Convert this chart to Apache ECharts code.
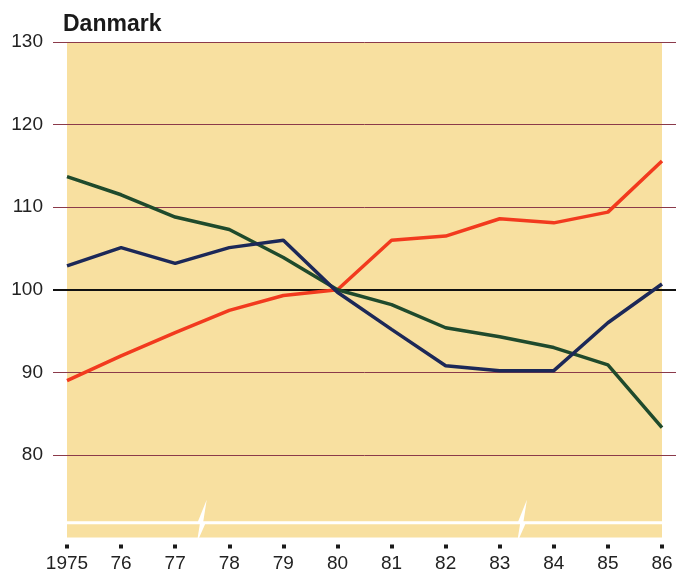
<!DOCTYPE html>
<html>
<head>
<meta charset="utf-8">
<script src="https://cdn.jsdelivr.net/npm/echarts@6/dist/echarts.min.js"></script>
<style>html,body{margin:0;padding:0;background:#fff;}#c{width:690px;height:579px;}</style>
</head>
<body>
<div id="c"></div>
<script>
const title = 'Danmark';
const years = [1975, 1976, 1977, 1978, 1979, 1980, 1981, 1982, 1983, 1984, 1985, 1986];
const redValues = [89.0, 92.0, 94.8, 97.5, 99.3, 100.0, 106.0, 106.5, 108.6, 108.1, 109.4, 115.6];
const navyValues = [102.9, 105.1, 103.2, 105.1, 106.0, 99.7, 95.2, 90.8, 90.2, 90.2, 96.0, 100.7];
const greenValues = [113.7, 111.5, 108.8, 107.3, 103.9, 100.0, 98.2, 95.4, 94.3, 93.0, 90.9, 83.3];
const yTicks = [80, 90, 100, 110, 120, 130];
const breakYears = [1977.48, 1983.4];
const breakLevel = 71.8;

const FONT = '"Liberation Sans", Arial, sans-serif';
const pair = vals => years.map((y, i) => [y, vals[i]]);

const chart = echarts.init(document.getElementById('c'), null, {renderer: 'canvas'});
const option = {
  backgroundColor: '#ffffff',
  animation: false,
  title: {
    text: title, left: 58, top: 8,
    textStyle: {fontFamily: FONT, fontSize: 23, fontWeight: 'bold', color: '#1a1a1a'}
  },
  grid: [
    {left: 53, right: 14, top: 42, bottom: 41.5, show: false},
    {left: 67, right: 28, top: 42, bottom: 41.5, show: true, backgroundColor: '#f8e0a0', borderWidth: 0, z: 0}
  ],
  xAxis: [
    {gridIndex: 0, type: 'value', min: 0, max: 1, show: false},
    {gridIndex: 1, type: 'value', min: 1975, max: 1986, interval: 1,
     offset: 7,
     axisLine: {show: false},
     axisTick: {show: true, length: 4, lineStyle: {width: 4, color: '#1a1a1a'}},
     splitLine: {show: false},
     axisLabel: {margin: 10, fontFamily: FONT, fontSize: 19, color: '#222',
       formatter: v => v === 1975 ? '1975' : String(v).slice(2)}}
  ],
  yAxis: [
    {gridIndex: 0, type: 'value', min: 70, max: 130, interval: 10, z: 1,
     axisLine: {show: false}, axisTick: {show: false},
     axisLabel: {margin: 10, fontFamily: FONT, fontSize: 19, color: '#222',
       formatter: v => yTicks.indexOf(v) >= 0 ? String(v) : ''},
     splitLine: {show: true, lineStyle: {width: 1,
       color: ['rgba(0,0,0,0)', '#8b3a4a', '#8b3a4a', '#111111', '#8b3a4a', '#8b3a4a', '#8b3a4a']}}},
    {gridIndex: 1, type: 'value', min: 70, max: 130, interval: 10, show: false, splitLine: {show: false}}
  ],
  series: [
    {type: 'line', xAxisIndex: 0, yAxisIndex: 0, data: [], z: 1, silent: true,
     markLine: {symbol: 'none', silent: true, label: {show: false}, z: 1,
       lineStyle: {color: '#111111', width: 2, type: 'solid'}, data: [{yAxis: 100}]}},
    {name: 'red', type: 'line', xAxisIndex: 1, yAxisIndex: 1, data: pair(redValues), showSymbol: false, z: 3,
     lineStyle: {color: '#f23a1e', width: 3.5}},
    {name: 'green', type: 'line', xAxisIndex: 1, yAxisIndex: 1, data: pair(greenValues), showSymbol: false, z: 3,
     lineStyle: {color: '#1f4a2c', width: 3.5}},
    {name: 'navy', type: 'line', xAxisIndex: 1, yAxisIndex: 1, data: pair(navyValues), showSymbol: false, z: 4,
     lineStyle: {color: '#1c2858', width: 3.5}}
  ]
};
chart.setOption(option);

// axis-break decoration (white line with zigzags) computed from the axis scale
const p0 = chart.convertToPixel({gridIndex: 1}, [years[0], breakLevel]);
const p1 = chart.convertToPixel({gridIndex: 1}, [years[years.length - 1], breakLevel]);
const pts = [[p0[0], p0[1]]];
breakYears.forEach(by => {
  const b = chart.convertToPixel({gridIndex: 1}, [by, breakLevel]);
  pts.push([b[0] - 2, b[1]], [b[0] + 2, b[1] - 10], [b[0] - 1, b[1] + 9], [b[0] + 3, b[1]]);
});
pts.push([p1[0], p1[1]]);
chart.setOption({
  graphic: [{type: 'polyline', z: 5, shape: {points: pts},
    style: {stroke: '#ffffff', lineWidth: 3, fill: null}}]
});
</script>
</body>
</html>
